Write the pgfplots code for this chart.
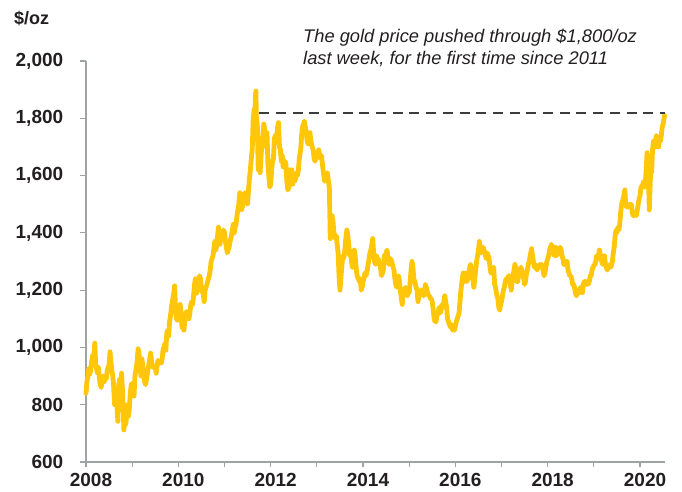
\documentclass[border=0pt]{standalone}
\usepackage{pgfplots}
\pgfplotsset{compat=1.18}
\usepackage{fontspec}
\setmainfont{Liberation Sans}
\definecolor{gold}{RGB}{255,198,10}
\definecolor{axgray}{RGB}{160,163,163}
\definecolor{txt}{RGB}{35,31,32}
\definecolor{dashgray}{RGB}{60,60,60}
\begin{document}
\begin{tikzpicture}
\begin{axis}[
  at={(0,0)}, anchor=south west,
  scale only axis, width=579pt, height=401pt,
  xmin=2008, xmax=2020.54, ymin=600, ymax=2000,
  axis x line*=bottom, axis y line*=left,
  axis line style={axgray, line width=1.3pt, -},
  every tick/.style={axgray, line width=1.2pt},
  tick align=outside,
  xtick={2008,2009,...,2020},
  xticklabels={2008,,2010,,2012,,2014,,2016,,2018,,2020},
  ytick={600,800,1000,1200,1400,1600,1800,2000},
  yticklabels={600,800,{1,000},{1,200},{1,400},{1,600},{1,800},{2,000}},
  xtick style={/pgfplots/major tick length=4.5pt},
  ytick style={/pgfplots/major tick length=6pt},
  tick label style={font=\fontsize{19}{20}\selectfont\bfseries, text=txt},
  xticklabel style={xshift=5pt, yshift=-3pt},
  yticklabel style={xshift=-15pt},
  clip=false,
]
\addplot[gold, line width=4.8pt, line join=round, line cap=round] coordinates {
(2008.00,840) (2008.02,880) (2008.04,900) (2008.06,925) (2008.08,905) (2008.10,920)
(2008.12,950) (2008.15,975) (2008.17,960) (2008.19,1015) (2008.21,940) (2008.23,925)
(2008.25,910) (2008.27,930) (2008.29,890) (2008.31,870) (2008.33,860) (2008.35,890)
(2008.37,900) (2008.40,880) (2008.42,900) (2008.44,890) (2008.46,920) (2008.48,930)
(2008.50,940) (2008.52,985) (2008.54,950) (2008.56,920) (2008.58,900) (2008.60,860)
(2008.62,800) (2008.64,830) (2008.66,820) (2008.69,742) (2008.71,870) (2008.73,890)
(2008.75,880) (2008.77,910) (2008.79,850) (2008.81,770) (2008.82,712) (2008.84,740)
(2008.86,730) (2008.88,760) (2008.90,800) (2008.92,760) (2008.94,790) (2008.96,840)
(2008.98,870)
(2009.00,875) (2009.02,860) (2009.04,830) (2009.06,900) (2009.08,920) (2009.10,940)
(2009.13,995) (2009.15,975) (2009.17,940) (2009.19,900) (2009.21,960) (2009.23,935)
(2009.25,910) (2009.27,880) (2009.29,870) (2009.31,890) (2009.33,910) (2009.35,930)
(2009.38,960) (2009.40,980) (2009.42,950) (2009.44,935) (2009.46,930) (2009.48,935)
(2009.50,930) (2009.52,910) (2009.54,935) (2009.56,955) (2009.58,945) (2009.60,950)
(2009.63,945) (2009.65,960) (2009.67,995) (2009.69,1000) (2009.71,1015) (2009.73,990)
(2009.75,1050) (2009.77,1060) (2009.79,1040) (2009.81,1090) (2009.83,1110) (2009.85,1140)
(2009.88,1170) (2009.90,1190) (2009.92,1215) (2009.94,1130) (2009.96,1100) (2009.98,1095)
(2010.00,1100) (2010.02,1135) (2010.04,1150) (2010.06,1110) (2010.08,1070) (2010.10,1085)
(2010.12,1060) (2010.15,1110) (2010.17,1125) (2010.19,1110) (2010.21,1125) (2010.23,1100)
(2010.25,1120) (2010.27,1150) (2010.29,1160) (2010.31,1150) (2010.33,1180) (2010.35,1220)
(2010.37,1240) (2010.40,1190) (2010.42,1215) (2010.44,1230) (2010.46,1250) (2010.48,1240)
(2010.50,1200) (2010.52,1195) (2010.54,1185) (2010.56,1160) (2010.58,1200) (2010.60,1210)
(2010.62,1220) (2010.65,1240) (2010.67,1250) (2010.69,1270) (2010.71,1300) (2010.73,1310)
(2010.75,1320) (2010.77,1345) (2010.79,1370) (2010.81,1340) (2010.83,1355) (2010.85,1390)
(2010.87,1420) (2010.90,1360) (2010.92,1380) (2010.94,1400) (2010.96,1385) (2010.98,1410)
(2011.00,1400) (2011.02,1370) (2011.04,1350) (2011.06,1330) (2011.08,1340) (2011.10,1350)
(2011.12,1370) (2011.15,1390) (2011.17,1410) (2011.19,1430) (2011.21,1400) (2011.23,1420)
(2011.25,1430) (2011.27,1460) (2011.29,1480) (2011.31,1500) (2011.33,1540) (2011.35,1490)
(2011.37,1480) (2011.40,1500) (2011.42,1530) (2011.44,1540) (2011.46,1520) (2011.48,1510)
(2011.50,1500) (2011.52,1550) (2011.54,1590) (2011.56,1620) (2011.58,1660) (2011.60,1690)
(2011.62,1790) (2011.64,1830) (2011.65,1770) (2011.67,1880) (2011.68,1895) (2011.69,1800)
(2011.71,1780) (2011.73,1620) (2011.75,1650) (2011.77,1610) (2011.79,1660) (2011.81,1720)
(2011.83,1740) (2011.85,1780) (2011.87,1760) (2011.90,1700) (2011.92,1750) (2011.94,1640)
(2011.96,1600) (2011.98,1560)
(2012.00,1570) (2012.02,1620) (2012.04,1650) (2012.06,1660) (2012.08,1730) (2012.10,1740)
(2012.12,1720) (2012.15,1770) (2012.17,1785) (2012.19,1700) (2012.21,1690) (2012.23,1650)
(2012.25,1670) (2012.27,1630) (2012.29,1650) (2012.31,1650) (2012.33,1640) (2012.35,1580)
(2012.37,1550) (2012.40,1560) (2012.42,1620) (2012.44,1600) (2012.46,1620) (2012.48,1570)
(2012.50,1590) (2012.52,1580) (2012.54,1590) (2012.56,1610) (2012.58,1600) (2012.60,1620)
(2012.62,1660) (2012.65,1690) (2012.67,1740) (2012.69,1770) (2012.71,1780) (2012.73,1790)
(2012.75,1770) (2012.77,1750) (2012.79,1720) (2012.81,1710) (2012.83,1730) (2012.85,1750)
(2012.87,1720) (2012.90,1700) (2012.92,1690) (2012.94,1660) (2012.96,1650) (2012.98,1660)
(2013.00,1680) (2013.02,1670) (2013.04,1690) (2013.06,1670) (2013.08,1660) (2013.10,1670)
(2013.12,1640) (2013.15,1600) (2013.17,1580) (2013.19,1590) (2013.21,1600) (2013.23,1610)
(2013.25,1580) (2013.27,1560) (2013.29,1380) (2013.31,1420) (2013.33,1460) (2013.35,1440)
(2013.37,1400) (2013.40,1380) (2013.42,1390) (2013.44,1360) (2013.46,1330) (2013.48,1250)
(2013.50,1200) (2013.52,1240) (2013.54,1280) (2013.56,1320) (2013.58,1310) (2013.60,1330)
(2013.62,1370) (2013.65,1410) (2013.67,1390) (2013.69,1360) (2013.71,1320) (2013.73,1330)
(2013.75,1300) (2013.77,1280) (2013.79,1320) (2013.81,1340) (2013.83,1320) (2013.85,1280)
(2013.87,1250) (2013.90,1240) (2013.92,1230) (2013.94,1240) (2013.96,1200) (2013.98,1210)
(2014.00,1230) (2014.02,1240) (2014.04,1260) (2014.06,1250) (2014.08,1260) (2014.10,1280)
(2014.12,1300) (2014.15,1330) (2014.17,1340) (2014.19,1360) (2014.21,1380) (2014.23,1330)
(2014.25,1300) (2014.27,1290) (2014.29,1320) (2014.31,1300) (2014.33,1310) (2014.35,1290)
(2014.37,1290) (2014.40,1250) (2014.42,1260) (2014.44,1270) (2014.46,1320) (2014.48,1320)
(2014.50,1330) (2014.52,1340) (2014.54,1310) (2014.56,1290) (2014.58,1300) (2014.60,1310)
(2014.62,1300) (2014.65,1280) (2014.67,1270) (2014.69,1240) (2014.71,1220) (2014.73,1210)
(2014.75,1240) (2014.77,1250) (2014.79,1230) (2014.81,1200) (2014.83,1170) (2014.85,1150)
(2014.87,1190) (2014.90,1200) (2014.92,1210) (2014.94,1190) (2014.96,1180) (2014.98,1200)
(2015.00,1190) (2015.02,1230) (2015.04,1270) (2015.06,1300) (2015.08,1280) (2015.10,1240)
(2015.12,1230) (2015.15,1210) (2015.17,1200) (2015.19,1160) (2015.21,1180) (2015.23,1190)
(2015.25,1200) (2015.27,1200) (2015.29,1190) (2015.31,1180) (2015.33,1190) (2015.35,1220)
(2015.37,1210) (2015.40,1190) (2015.42,1180) (2015.44,1180) (2015.46,1170) (2015.48,1170)
(2015.50,1160) (2015.52,1130) (2015.54,1100) (2015.56,1090) (2015.58,1090) (2015.60,1110)
(2015.62,1120) (2015.65,1140) (2015.67,1120) (2015.69,1130) (2015.71,1150) (2015.73,1140)
(2015.75,1160) (2015.77,1180) (2015.79,1160) (2015.81,1140) (2015.83,1100) (2015.85,1090)
(2015.87,1080) (2015.90,1070) (2015.92,1080) (2015.94,1060) (2015.96,1070) (2015.98,1060)
(2016.00,1075) (2016.02,1090) (2016.04,1100) (2016.06,1110) (2016.08,1120) (2016.10,1160)
(2016.12,1200) (2016.15,1240) (2016.17,1260) (2016.19,1230) (2016.21,1250) (2016.23,1260)
(2016.25,1230) (2016.27,1240) (2016.29,1250) (2016.31,1280) (2016.33,1290) (2016.35,1270)
(2016.37,1250) (2016.40,1210) (2016.42,1240) (2016.44,1270) (2016.46,1300) (2016.48,1320)
(2016.50,1340) (2016.52,1370) (2016.54,1330) (2016.56,1350) (2016.58,1340) (2016.60,1350)
(2016.62,1340) (2016.65,1320) (2016.67,1310) (2016.69,1330) (2016.71,1320) (2016.73,1310)
(2016.75,1280) (2016.77,1260) (2016.79,1260) (2016.81,1270) (2016.83,1280) (2016.85,1220)
(2016.87,1210) (2016.90,1180) (2016.92,1170) (2016.94,1140) (2016.96,1130) (2016.98,1150)
(2017.00,1160) (2017.02,1180) (2017.04,1200) (2017.06,1210) (2017.08,1230) (2017.10,1240)
(2017.12,1230) (2017.15,1250) (2017.17,1250) (2017.19,1220) (2017.21,1200) (2017.23,1230)
(2017.25,1250) (2017.27,1270) (2017.29,1290) (2017.31,1270) (2017.33,1230) (2017.35,1230)
(2017.37,1260) (2017.40,1270) (2017.42,1280) (2017.44,1270) (2017.46,1250) (2017.48,1240)
(2017.50,1220) (2017.52,1230) (2017.54,1260) (2017.56,1270) (2017.58,1290) (2017.60,1300)
(2017.62,1320) (2017.65,1345) (2017.67,1320) (2017.69,1300) (2017.71,1280) (2017.73,1290)
(2017.75,1280) (2017.77,1270) (2017.79,1280) (2017.81,1280) (2017.83,1290) (2017.85,1280)
(2017.87,1290) (2017.90,1270) (2017.92,1250) (2017.94,1260) (2017.96,1280) (2017.98,1300)
(2018.00,1310) (2018.02,1320) (2018.04,1340) (2018.06,1350) (2018.08,1360) (2018.10,1340)
(2018.12,1330) (2018.15,1320) (2018.17,1350) (2018.19,1320) (2018.21,1330) (2018.23,1340)
(2018.25,1330) (2018.27,1350) (2018.29,1340) (2018.31,1320) (2018.33,1310) (2018.35,1290)
(2018.37,1290) (2018.40,1300) (2018.42,1300) (2018.44,1270) (2018.46,1260) (2018.48,1250)
(2018.50,1250) (2018.52,1240) (2018.54,1220) (2018.56,1220) (2018.58,1210) (2018.60,1190)
(2018.62,1180) (2018.65,1200) (2018.67,1200) (2018.69,1190) (2018.71,1210) (2018.73,1200)
(2018.75,1190) (2018.77,1220) (2018.79,1230) (2018.81,1230) (2018.83,1220) (2018.85,1230)
(2018.87,1220) (2018.90,1230) (2018.92,1250) (2018.94,1250) (2018.96,1270) (2018.98,1280)
(2019.00,1285) (2019.02,1290) (2019.04,1300) (2019.06,1320) (2019.08,1310) (2019.10,1320)
(2019.12,1340) (2019.15,1310) (2019.17,1300) (2019.19,1290) (2019.21,1300) (2019.23,1320)
(2019.25,1290) (2019.27,1280) (2019.29,1270) (2019.31,1280) (2019.33,1280) (2019.35,1290)
(2019.37,1280) (2019.40,1300) (2019.42,1330) (2019.44,1350) (2019.46,1390) (2019.48,1410)
(2019.50,1400) (2019.52,1420) (2019.54,1410) (2019.56,1430) (2019.58,1470) (2019.60,1500)
(2019.62,1510) (2019.65,1530) (2019.67,1550) (2019.69,1500) (2019.71,1490) (2019.73,1500)
(2019.75,1490) (2019.77,1500) (2019.79,1490) (2019.81,1500) (2019.83,1470) (2019.85,1460)
(2019.87,1460) (2019.90,1470) (2019.92,1460) (2019.94,1480) (2019.96,1500) (2019.98,1520)
(2020.00,1530) (2020.02,1560) (2020.04,1560) (2020.06,1570) (2020.08,1580) (2020.10,1560)
(2020.12,1590) (2020.14,1640) (2020.15,1680) (2020.17,1650) (2020.18,1600) (2020.20,1480)
(2020.21,1530) (2020.23,1620) (2020.25,1610) (2020.27,1690) (2020.29,1720) (2020.31,1700)
(2020.33,1700) (2020.35,1740) (2020.37,1730) (2020.40,1700) (2020.42,1730) (2020.44,1720)
(2020.46,1740) (2020.48,1770) (2020.50,1780) (2020.52,1800) (2020.53,1810)
};
\addplot[dashgray, line width=2pt, dash pattern=on 10pt off 6.7pt] coordinates {(2011.75,1817) (2020.53,1817)};
\end{axis}
\node[anchor=base west, inner sep=0pt, text=txt, font=\fontsize{18}{20}\selectfont\bfseries] at (-72pt,437pt) {\$/oz};
\node[anchor=base west, inner sep=0pt, text=txt, font=\fontsize{18.3}{20}\selectfont\itshape] at (217pt,419pt) {The gold price pushed through \$1,800/oz};
\node[anchor=base west, inner sep=0pt, text=txt, font=\fontsize{18.3}{20}\selectfont\itshape] at (217pt,397pt) {last week, for the first time since 2011};
\pgfresetboundingbox
\path (-86pt,-30pt) rectangle (596pt,462pt);
\end{tikzpicture}
\end{document}
